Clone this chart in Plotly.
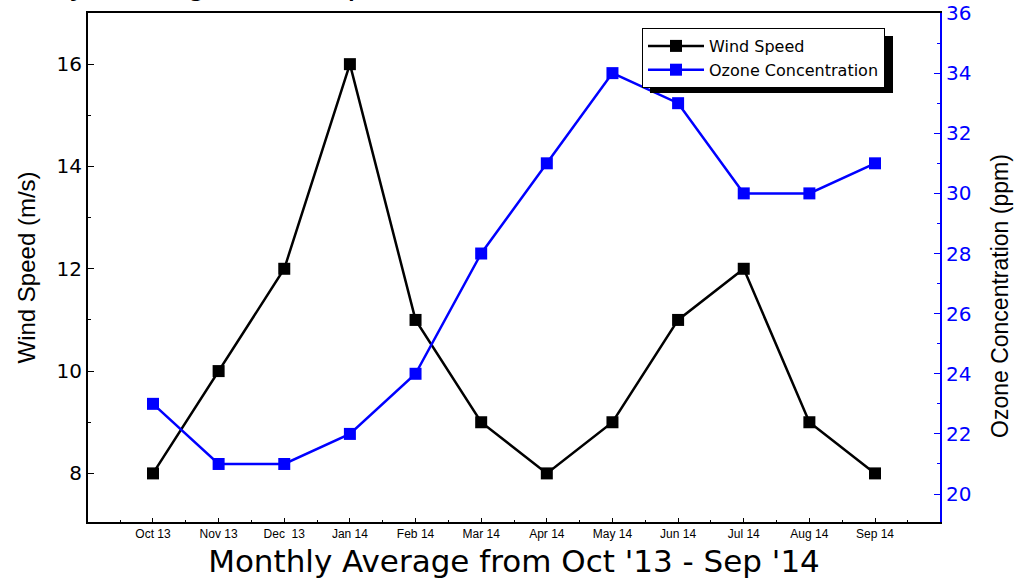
import plotly.graph_objects as go

months = ["Oct 13", "Nov 13", "Dec\u00a0\u00a013", "Jan 14", "Feb 14", "Mar 14",
          "Apr 14", "May 14", "Jun 14", "Jul 14", "Aug 14", "Sep 14"]
wind_speed = [8, 10, 12, 16, 11, 9, 8, 9, 11, 12, 9, 8]
ozone = [23, 21, 21, 22, 24, 28, 31, 34, 33, 30, 30, 31]

FONT = "Arial, Liberation Sans, sans-serif"
WIDE = "DejaVu Sans, Verdana, sans-serif"
xs = list(range(len(months)))

fig = go.Figure()
fig.add_trace(go.Scatter(
    x=xs, y=wind_speed, name="Wind Speed", mode="lines+markers",
    line=dict(color="black", width=2.5),
    marker=dict(symbol="square", size=12, color="black"),
))
fig.add_trace(go.Scatter(
    x=xs, y=ozone, name="Ozone Concentration", mode="lines+markers",
    yaxis="y2",
    line=dict(color="blue", width=2.5),
    marker=dict(symbol="square", size=12, color="blue"),
))

PW, PH = 852, 509
L, T = 88, 13

def px_x(p):
    return (p - L) / PW

def px_y(p):
    return (T + PH - p) / PH

# legend shadow (legend box offset by 8 px)
fig.add_shape(type="rect", xref="paper", yref="paper",
              x0=px_x(650), x1=px_x(893),
              y0=px_y(93), y1=px_y(36),
              fillcolor="black", line=dict(width=0), layer="above")

# cut-off title at top
fig.add_annotation(text="Monthly Average Wind Speed and Ozone Concentration",
                   xref="paper", yref="paper", x=px_x(-36), y=1 + 11 / PH,
                   xanchor="left", yanchor="bottom", showarrow=False,
                   borderpad=0, font=dict(family=FONT, size=35, color="black"))

# right axis title
fig.add_annotation(text="Ozone Concentration (ppm)", textangle=-90,
                   xref="paper", yref="paper", x=px_x(1000), y=px_y(296),
                   xanchor="center", yanchor="middle", showarrow=False,
                   font=dict(family=FONT, size=23, color="black"))

fig.update_layout(
    width=1019, height=579,
    margin=dict(l=L, r=1019 - L - PW, t=T, b=579 - T - PH, autoexpand=False),
    paper_bgcolor="white", plot_bgcolor="white",
    font=dict(family=FONT, color="black"),
    showlegend=True,
    legend=dict(x=px_x(642), y=px_y(28), xanchor="left", yanchor="top",
                bgcolor="white", bordercolor="black", borderwidth=1,
                font=dict(family=WIDE, size=16, color="black"),
                tracegroupgap=0, itemwidth=56),
    xaxis=dict(
        tickmode="array", tickvals=xs, ticktext=months, automargin=False,
        range=[-0.99, 11.99], showgrid=False, zeroline=False,
        showline=True, linecolor="black", linewidth=2, mirror=True,
        ticks="inside", ticklen=4, tickcolor="black",
        minor=dict(tickvals=[i + 0.5 for i in range(-1, 12)], ticks="inside", ticklen=2,
                   tickcolor="black"),
        tickfont=dict(family=FONT, size=12, color="black"),
        title=dict(text="Monthly Average from Oct '13 - Sep '14",
                   font=dict(family=WIDE, size=31, color="black"), standoff=10),
    ),
    yaxis=dict(
        range=[7.05, 17], tickvals=[8, 10, 12, 14, 16], showgrid=False, zeroline=False,
        automargin=False,
        showline=True, linecolor="black", linewidth=2,
        ticks="inside", ticklen=6, tickcolor="black",
        minor=dict(tickvals=[9, 11, 13, 15], ticks="inside", ticklen=3, tickcolor="black"),
        tickfont=dict(family=WIDE, size=20, color="black"),
        title=dict(text="Wind Speed (m/s)", font=dict(family=FONT, size=24, color="black"),
                   standoff=14),
    ),
    yaxis2=dict(
        overlaying="y", side="right", range=[19.07, 36], automargin=False,
        tickvals=[20, 22, 24, 26, 28, 30, 32, 34, 36],
        showgrid=False, zeroline=False,
        showline=True, linecolor="blue", linewidth=2,
        ticks="inside", ticklen=6, tickcolor="blue",
        minor=dict(tickvals=[21, 23, 25, 27, 29, 31, 33, 35], ticks="inside", ticklen=3,
                   tickcolor="blue"),
        tickfont=dict(family=WIDE, size=20, color="blue"),
    ),
)

fig.write_html("out.html", config={"displayModeBar": False},
               post_script="document.body.style.margin='0';")
